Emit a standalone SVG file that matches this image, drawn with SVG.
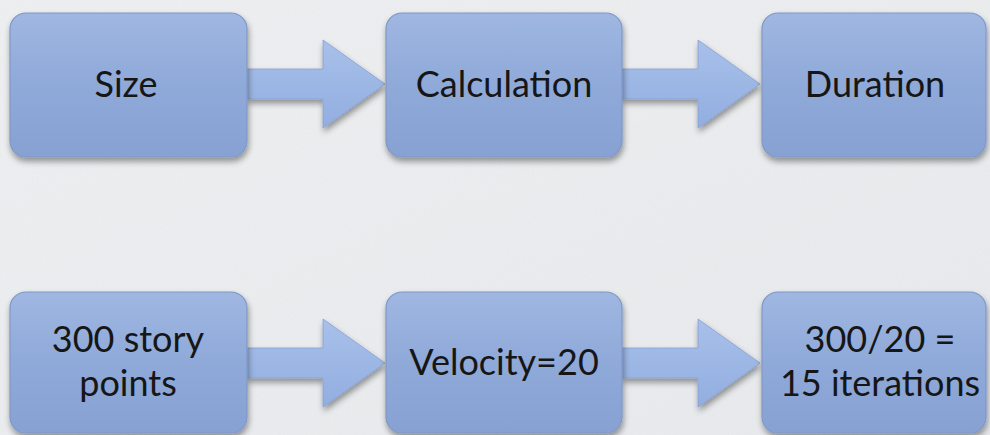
<svg xmlns="http://www.w3.org/2000/svg" width="990" height="435" viewBox="0 0 990 435">
<defs>
<linearGradient id="bg" x1="0" y1="0" x2="1" y2="1">
<stop offset="0" stop-color="#f0f1f3"/>
<stop offset="1" stop-color="#e9ebee"/>
</linearGradient>
<linearGradient id="boxg" x1="0" y1="0" x2="0" y2="1">
<stop offset="0" stop-color="#9fb7e1"/>
<stop offset="0.5" stop-color="#8fa9d9"/>
<stop offset="1" stop-color="#87a1d3"/>
</linearGradient>
<linearGradient id="arrg" x1="0" y1="0" x2="0" y2="1">
<stop offset="0" stop-color="#a8c0ea"/>
<stop offset="1" stop-color="#92aee0"/>
</linearGradient>
<filter id="sh" x="-10%" y="-10%" width="125%" height="130%">
<feGaussianBlur in="SourceAlpha" stdDeviation="3"/>
<feOffset dx="1" dy="4" result="b"/>
<feComponentTransfer><feFuncA type="linear" slope="0.4"/></feComponentTransfer>
<feMerge><feMergeNode/><feMergeNode in="SourceGraphic"/></feMerge>
</filter>
<filter id="paper" x="0" y="0" width="100%" height="100%">
<feTurbulence type="fractalNoise" baseFrequency="0.9" numOctaves="2" seed="3" result="n"/>
<feColorMatrix in="n" type="matrix" values="0 0 0 0 0.5  0 0 0 0 0.5  0 0 0 0 0.52  0 0 0 0.12 0"/>
</filter>
<path id="arrow" d="M0,-15 H76 V-44 L138,0 L76,44 V15 H0 Z"/>
</defs>
<style>
.box{fill:url(#boxg);stroke:#7f98c6;stroke-width:1.2;filter:url(#sh)}
.arr{fill:url(#arrg);stroke:#86a1d2;stroke-width:0.8;filter:url(#sh)}
.t{font-family:Lato,"Open Sans","Liberation Sans",sans-serif;font-size:36px;fill:#161616;text-anchor:middle}
</style>
<rect width="990" height="435" fill="url(#bg)"/>
<rect width="990" height="435" filter="url(#paper)"/>
<g id="connectors">
<use href="#arrow" class="arr" x="247" y="84"/>
<use href="#arrow" class="arr" x="622" y="84"/>
<use href="#arrow" class="arr" x="247" y="363"/>
<use href="#arrow" class="arr" x="622" y="363"/>
</g>
<g id="size"><rect class="box" x="10" y="13" width="237" height="144" rx="16"/><text class="t" x="126" y="97">Size</text></g>
<g id="calculation"><rect class="box" x="386" y="13" width="236" height="144" rx="16"/><text class="t" x="504" y="97">Calculation</text></g>
<g id="duration"><rect class="box" x="762" y="13" width="224" height="144" rx="16"/><text class="t" x="875" y="97">Duration</text></g>
<g id="storypoints"><rect class="box" x="10" y="292" width="237" height="141" rx="16"/><text class="t" x="128" y="352">300 story</text><text class="t" x="128" y="396">points</text></g>
<g id="velocity"><rect class="box" x="386" y="292" width="236" height="141" rx="16"/><text class="t" x="504" y="375">Velocity=20</text></g>
<g id="iterations"><rect class="box" x="762" y="292" width="224" height="141" rx="16"/><text class="t" x="880" y="352">300/20 =</text><text class="t" x="880" y="396">15 iterations</text></g>
</svg>
